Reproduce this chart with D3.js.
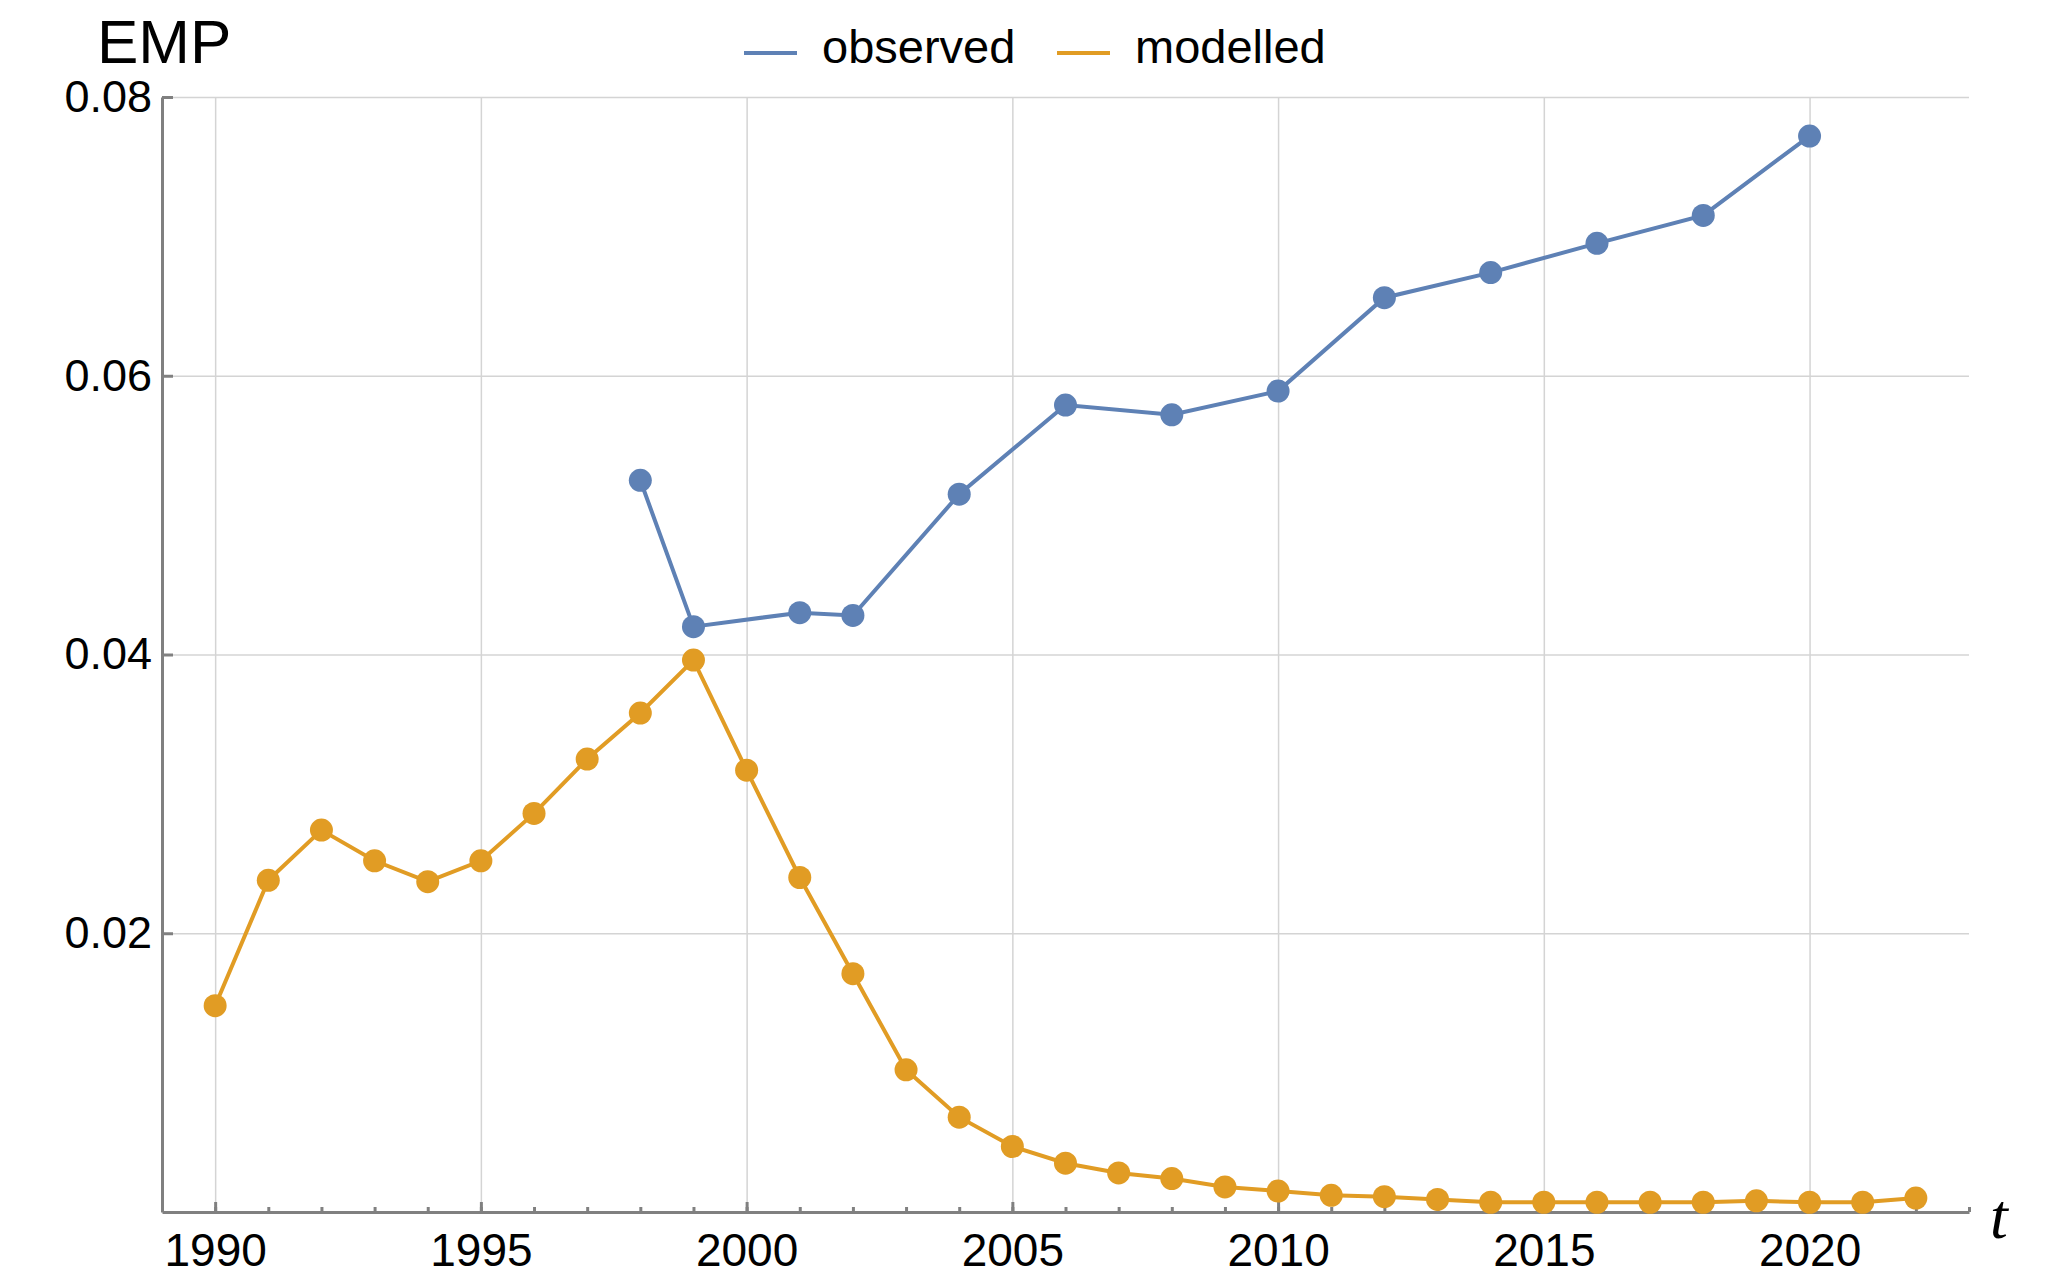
<!DOCTYPE html>
<html>
<head>
<meta charset="utf-8">
<script src="https://cdn.jsdelivr.net/npm/d3@7"></script>
<style>
  body { margin: 0; background: #fff; }
  text { font-family: "Liberation Sans", Arial, sans-serif; }
</style>
</head>
<body>
<div id="chart"></div>
<script>
// observed series (every 2nd year mostly)
const obsYears = [1998, 1999, 2001, 2002, 2004, 2006, 2008, 2010, 2012, 2014, 2016, 2018, 2020];
const obsValues = [0.0525, 0.0420, 0.0430, 0.0428, 0.0515, 0.0579, 0.0572, 0.0589, 0.0656, 0.0674, 0.0695, 0.0715, 0.0772];

// modelled series, 1990..2022
const modYears = [1990, 1991, 1992, 1993, 1994, 1995, 1996, 1997, 1998, 1999, 2000, 2001, 2002, 2003, 2004, 2005,
    2006, 2007, 2008, 2009, 2010, 2011, 2012, 2013, 2014, 2015, 2016, 2017, 2018, 2019, 2020, 2021, 2022];
const modValues = [0.0148, 0.0238, 0.0274, 0.0252, 0.0237, 0.0252, 0.0286, 0.0325, 0.0358, 0.0396, 0.0317, 0.0240,
    0.0171, 0.0102, 0.0068, 0.0047, 0.0035, 0.0028, 0.0024, 0.0018, 0.0015, 0.0012, 0.0011, 0.0009, 0.0007,
    0.0007, 0.0007, 0.0007, 0.0007, 0.0008, 0.0007, 0.0007, 0.0010];

// ticks
const xMajor = [1990, 1995, 2000, 2005, 2010, 2015, 2020];
const xMinor = d3.range(1989, 2024);
const yMajor = [0.02, 0.04, 0.06, 0.08];
const yLabels = ["0.02", "0.04", "0.06", "0.08"];
const seriesNames = ["observed", "modelled"];
const colors = ["#5e81b5", "#e19c24"];

let frame = { width: 2072, height: 1281 },
    plot = { left: 162, right: 1969, top: 97, bottom: 1212 };

let svg = d3.select("#chart").append("svg")
    .attr("width", frame.width)
    .attr("height", frame.height);

let x = d3.scaleLinear().domain([1989, 2023]).range([plot.left, plot.right]);
let y = d3.scaleLinear().domain([0, 0.08]).range([plot.bottom, plot.top]);

// grid lines
svg.append("g")
    .attr("transform", "translate(0," + plot.bottom + ")")
    .call(d3.axisBottom(x).tickValues(xMajor).tickSize(-(plot.bottom - plot.top)).tickFormat(""))
    .call(g => g.select(".domain").remove())
    .selectAll("line").attr("stroke", "#d4d4d4").attr("stroke-width", 1.5);

svg.append("g")
    .attr("transform", "translate(" + plot.left + ",0)")
    .call(d3.axisLeft(y).tickValues(yMajor).tickSize(-(plot.right - plot.left)).tickFormat(""))
    .call(g => g.select(".domain").remove())
    .selectAll("line").attr("stroke", "#d4d4d4").attr("stroke-width", 1.5);

// minor x ticks
svg.append("g")
    .attr("transform", "translate(0," + plot.bottom + ")")
    .call(d3.axisBottom(x).tickValues(xMinor).tickSize(-5).tickFormat(""))
    .call(g => g.select(".domain").remove())
    .selectAll("line").attr("stroke", "#808080").attr("stroke-width", 3);

// x axis with major ticks
let xAxis = svg.append("g")
    .attr("transform", "translate(0," + plot.bottom + ")")
    .call(d3.axisBottom(x).tickValues(xMajor).tickSizeInner(-10).tickSizeOuter(0).tickPadding(21).tickFormat(d3.format("d")));
xAxis.select(".domain").attr("stroke", "#808080").attr("stroke-width", 3);
xAxis.selectAll("line").attr("stroke", "#808080").attr("stroke-width", 3);
xAxis.selectAll("text").attr("fill", "#000").style("font-size", "46px")
    .style("font-family", "'Liberation Sans', Arial, sans-serif");

// y axis
let yAxis = svg.append("g")
    .attr("transform", "translate(" + plot.left + ",0)")
    .call(d3.axisLeft(y).tickValues(yMajor).tickSizeInner(-11).tickSizeOuter(0).tickPadding(10)
        .tickFormat((d, i) => yLabels[i]));
yAxis.select(".domain").attr("stroke", "#808080").attr("stroke-width", 3);
yAxis.selectAll("line").attr("stroke", "#808080").attr("stroke-width", 3);
yAxis.selectAll("text").attr("fill", "#000").style("font-size", "45px")
    .style("font-family", "'Liberation Sans', Arial, sans-serif");

// axis titles
svg.append("text")
    .attr("x", 97).attr("y", 63)
    .style("font-size", "62px")
    .text("EMP");

svg.append("text")
    .attr("x", 1990).attr("y", 1238)
    .style("font-family", "'Liberation Serif', 'Times New Roman', serif")
    .style("font-style", "italic")
    .style("font-size", "64px")
    .text("t");

// series
let seriesData = [
    obsYears.map((yr, i) => ({ t: yr, v: obsValues[i] })),
    modYears.map((yr, i) => ({ t: yr, v: modValues[i] }))
];

let line = d3.line()
    .x(function (d) { return x(d.t); })
    .y(function (d) { return y(d.v); });

// draw modelled first so observed sits on top near 1999
[1, 0].forEach(function (s) {
    svg.append("path")
        .datum(seriesData[s])
        .attr("d", line)
        .attr("fill", "none")
        .attr("stroke", colors[s])
        .attr("stroke-width", 4);
    svg.append("g").selectAll("circle")
        .data(seriesData[s])
        .join("circle")
        .attr("cx", d => x(d.t))
        .attr("cy", d => y(d.v))
        .attr("r", 11.5)
        .attr("fill", colors[s]);
});

// legend
let legendX = [744, 1057];
seriesNames.forEach(function (name, i) {
    svg.append("line")
        .attr("x1", legendX[i]).attr("x2", legendX[i] + 53)
        .attr("y1", 53).attr("y2", 53)
        .attr("stroke", colors[i])
        .attr("stroke-width", 4);
    svg.append("text")
        .attr("x", legendX[i] + 78).attr("y", 63)
        .style("font-size", "47px")
        .text(name);
});
</script>
</body>
</html>
